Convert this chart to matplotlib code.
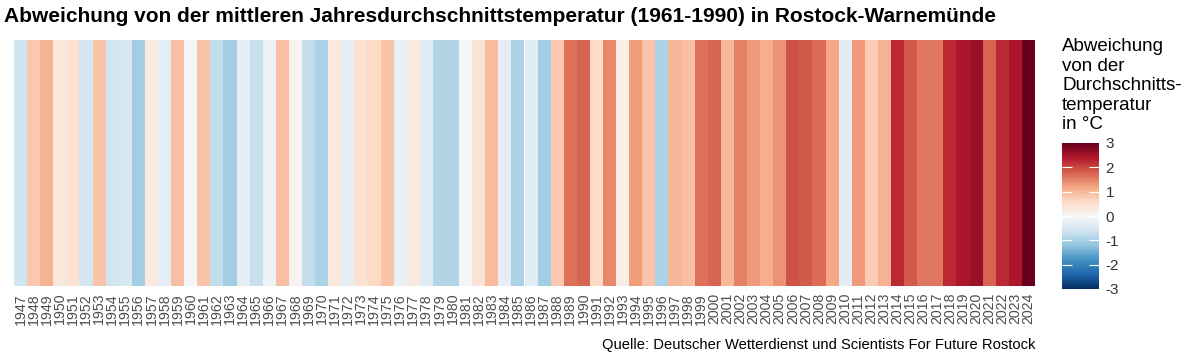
import numpy as np
import matplotlib
matplotlib.use('Agg')
import matplotlib.pyplot as plt
from matplotlib.colors import Normalize
from matplotlib.cm import ScalarMappable

plt.rcParams['font.family'] = ['Liberation Sans', 'DejaVu Sans']

# Jahre und Abweichung (geschätzt aus der Farbe der Streifen)
years = list(range(1947, 2025))
anomaly = [
    -0.60, 0.80, 1.05, 0.35, 0.45, -0.55, 0.85, -0.60, -0.50, -1.05,   # 1947-1956
    0.30, -0.30, 0.90, -0.05, 0.85, -0.75, -1.05, -0.30, -0.70, -0.15,  # 1957-1966
    0.90, 0.08, -0.75, -0.95, 0.30, -0.30, 0.45, 0.60, 0.85, -0.20,     # 1967-1976
    0.30, -0.40, -0.90, -0.90, -0.05, 0.40, 0.95, -0.30, -0.95, -0.35,  # 1977-1986
    -1.05, 0.80, 1.65, 1.75, 0.60, 1.45, 0.20, 1.25, 0.85, -0.95,       # 1987-1996
    1.00, 0.90, 1.65, 1.75, 1.00, 1.50, 1.30, 1.10, 1.35, 1.90,         # 1997-2006
    1.85, 1.70, 1.15, -0.35, 1.30, 0.75, 1.05, 2.25, 1.85, 1.60,        # 2007-2016
    1.60, 2.25, 2.45, 2.60, 1.75, 2.25, 2.45, 3.00,                     # 2017-2024
]
cbar_ticks = [-3, -2, -1, 0, 1, 2, 3]

title = 'Abweichung von der mittleren Jahresdurchschnittstemperatur (1961-1990) in Rostock-Warnemünde'
legend_title = 'Abweichung\nvon der\nDurchschnitts-\ntemperatur\nin °C'
source = 'Quelle: Deutscher Wetterdienst und Scientists For Future Rostock'

cmap = plt.get_cmap('RdBu_r')
norm = Normalize(vmin=-3, vmax=3)

fig = plt.figure(figsize=(12, 3.6), dpi=100)
ax = fig.add_axes([14 / 1200, 1 - 286 / 360, (1035 - 14) / 1200, (286 - 40) / 360])

x = np.arange(len(years))
ax.bar(x, 1, width=1.0, color=cmap(norm(np.array(anomaly))), linewidth=0)
ax.set_xlim(-0.5, len(years) - 0.5)
ax.set_ylim(0, 1)
ax.set_xticks(x)
ax.set_xticklabels([str(y) for y in years], rotation=90, fontsize=10.2, color='#4d4d4d')
ax.tick_params(axis='x', length=0, pad=5)
ax.set_yticks([])
for s in ax.spines.values():
    s.set_visible(False)

fig.text(0.003, 1 - 17 / 360, title, fontsize=15.0, fontweight='bold', va='center', ha='left')
fig.text(1035 / 1200, 1 - 345 / 360, source, fontsize=10.6, va='center', ha='right')

# Farblegende
cax = fig.add_axes([1062 / 1200, 1 - 289 / 360, 37 / 1200, (289 - 143) / 360])
cb = fig.colorbar(ScalarMappable(norm=norm, cmap=cmap), cax=cax, ticks=cbar_ticks)
cb.outline.set_visible(False)
cax.tick_params(direction='in', length=7, width=0.8, color='white', left=True, right=True,
                labelcolor='#333333', labelsize=11, pad=-2)
cb.ax.set_yticklabels([str(t) for t in cbar_ticks])
for lbl in cax.get_yticklabels():
    lbl.set_x(1.25)
# keine weissen Striche an den Enden der Skala
ticks = cax.yaxis.get_major_ticks()
for t in (ticks[0], ticks[-1]):
    t.tick1line.set_visible(False)
    t.tick2line.set_visible(False)
fig.text(1062 / 1200, 1 - 38 / 360, legend_title, fontsize=13.5, va='top', ha='left',
         linespacing=1.2, color='black')

fig.savefig('out.png', dpi=100)
